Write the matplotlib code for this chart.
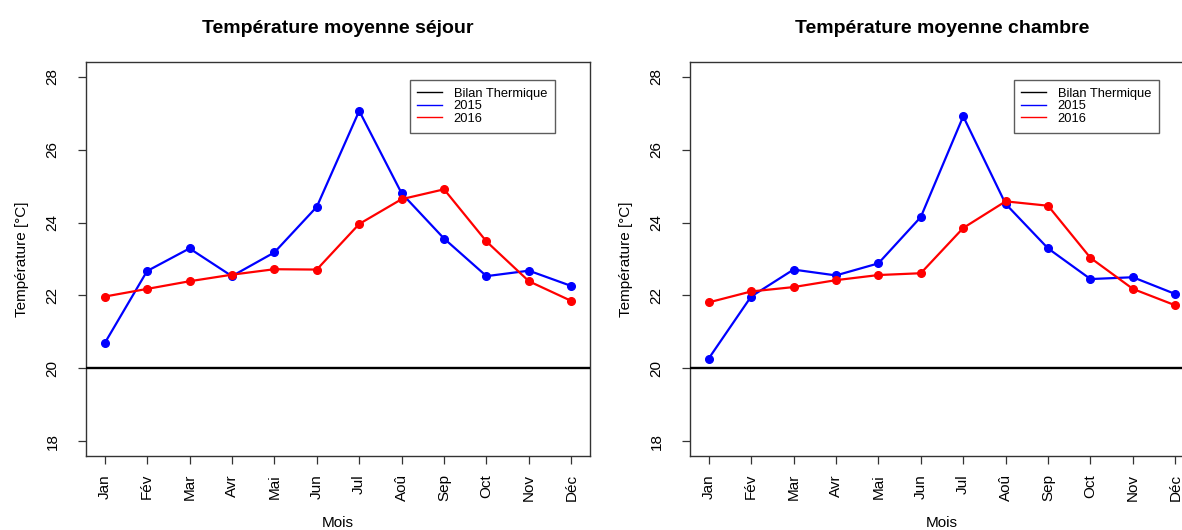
import matplotlib
matplotlib.use("Agg")
import matplotlib.pyplot as plt
from matplotlib.lines import Line2D

plt.rcParams['font.family'] = ['Liberation Sans', 'DejaVu Sans']

mois = ["Jan", "Fév", "Mar", "Avr", "Mai", "Jun", "Jul", "Aoû", "Sep", "Oct", "Nov", "Déc"]
bilan = 20

sejour_2015 = [20.69, 22.67, 23.29, 22.53, 23.18, 24.43, 27.06, 24.80, 23.56, 22.53, 22.68, 22.26]
sejour_2016 = [21.97, 22.18, 22.39, 22.57, 22.72, 22.71, 23.96, 24.64, 24.91, 23.48, 22.39, 21.85]
chambre_2015 = [20.27, 21.97, 22.71, 22.55, 22.88, 24.15, 26.91, 24.51, 23.29, 22.45, 22.50, 22.04]
chambre_2016 = [21.81, 22.11, 22.23, 22.42, 22.56, 22.61, 23.85, 24.58, 24.46, 23.03, 22.18, 21.73]

fig = plt.figure(figsize=(11.82, 5.30), dpi=100)
ax1 = fig.add_axes([86 / 1182, 1 - 456 / 530, 504 / 1182, 394 / 530])
ax2 = fig.add_axes([690 / 1182, 1 - 456 / 530, 504 / 1182, 394 / 530])


def panel(ax, titre, v2015, v2016):
    x = list(range(1, len(mois) + 1))
    ax.axhline(bilan, color="black", lw=1.7, zorder=3)
    ax.plot(x, v2015, color="blue", lw=1.6, marker="o", ms=5.5)
    ax.plot(x, v2016, color="red", lw=1.6, marker="o", ms=5.5)
    ax.set_xlim(1 - 11 * 0.04, 12 + 11 * 0.04)
    ax.set_ylim(18 - 0.4, 28 + 0.4)
    ax.set_xticks(x)
    ax.set_xticklabels(mois, rotation=90, fontsize=11)
    ax.set_yticks([18, 20, 22, 24, 26, 28])
    ax.set_yticklabels(["18", "20", "22", "24", "26", "28"], rotation=90, va="center", fontsize=11)
    ax.tick_params(axis="both", direction="out", length=6, width=0.9, color="#333333")
    ax.tick_params(axis="x", pad=7)
    ax.tick_params(axis="y", pad=13)
    for s in ax.spines.values():
        s.set_linewidth(1.0)
        s.set_color("#333333")
    ax.set_title(titre, fontweight="bold", fontsize=14, pad=21)
    ax.set_xlabel("Mois", fontsize=11, labelpad=11)
    ax.set_ylabel("Température [°C]", fontsize=11, labelpad=12)
    handles = [Line2D([], [], color="black", lw=1),
               Line2D([], [], color="blue", lw=1),
               Line2D([], [], color="red", lw=1)]
    leg = ax.legend(handles, ["Bilan Thermique", "2015", "2016"], loc="upper right",
                    bbox_to_anchor=(0.93, 0.955), fontsize=9.3, frameon=True, fancybox=False,
                    edgecolor="#333333", handlelength=1.9, labelspacing=0.05,
                    borderpad=0.6, handletextpad=0.9, borderaxespad=0)
    leg.get_frame().set_linewidth(1.0)


panel(ax1, "Température moyenne séjour", sejour_2015, sejour_2016)
panel(ax2, "Température moyenne chambre", chambre_2015, chambre_2016)

fig.savefig("out.png", dpi=100)
